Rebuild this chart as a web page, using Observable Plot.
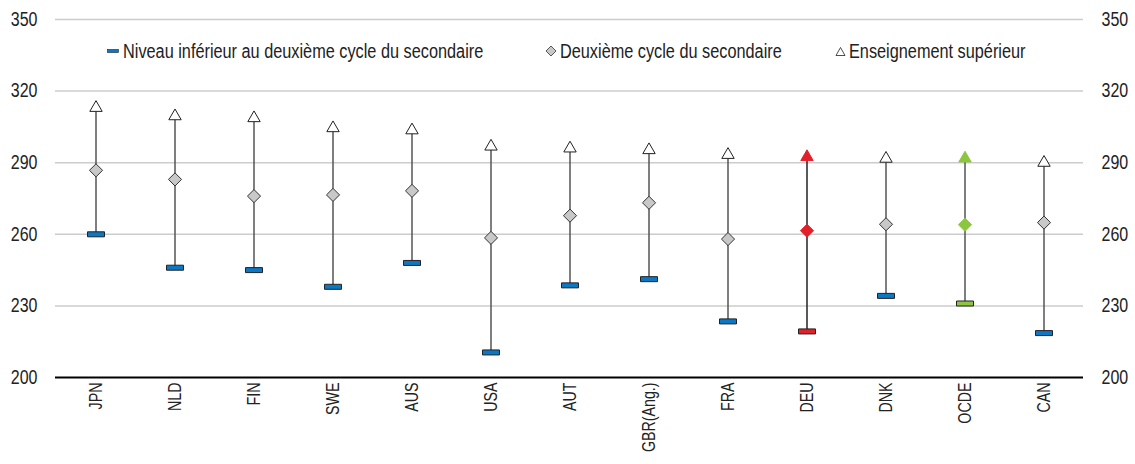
<!DOCTYPE html>
<html>
<head>
<meta charset="utf-8">
<script src="https://cdn.jsdelivr.net/npm/d3@7"></script>
<script src="https://cdn.jsdelivr.net/npm/@observablehq/plot@0.6"></script>
<style>
  html, body { margin: 0; padding: 0; background: #fff; }
  #wrap { position: relative; width: 1135px; height: 464px; font-family: "Liberation Sans", Arial, sans-serif; }
  #legend { position: absolute; top: 40px; left: 0; width: 1135px; height: 22px; font-size: 19.5px; color: #222; }
  .li { position: absolute; display: flex; align-items: center; white-space: nowrap; height: 22px; }
  .li svg { margin-right: 3px; flex: none; }
  .li span { display: inline-block; transform: scaleX(0.835); transform-origin: 0 50%; }
</style>
</head>
<body>
<div id="wrap">
  <div id="chart"></div>
  <div id="legend"></div>
</div>
<script>
const countries = ["JPN","NLD","FIN","SWE","AUS","USA","AUT","GBR(Ang.)","FRA","DEU","DNK","OCDE","CAN"];
const belowUpperSecondary = [260, 246, 245, 238, 248, 210.5, 238.6, 241.2, 223.5, 219.3, 234.2, 231, 218.6];
const upperSecondary      = [286.8, 283, 276, 276.5, 278.2, 258.5, 267.8, 273.2, 258, 261.5, 264.2, 264, 264.9];
const tertiary            = [313, 309.5, 308.7, 304.5, 303.6, 296.8, 296, 295.3, 293.3, 292.4, 291.7, 291.8, 290];
const seriesNames = ["Niveau inférieur au deuxième cycle du secondaire", "Deuxième cycle du secondaire", "Enseignement supérieur"];
const yTicks = [200, 230, 260, 290, 320, 350];

const BLUE = "#0b78c6", GRAY = "#c8c8c8", RED = "#e3202a", GREEN = "#8cc63f";
const accent = c => c === "DEU" ? RED : c === "OCDE" ? GREEN : null;

const data = countries.map((c, i) => ({c, low: belowUpperSecondary[i], mid: upperSecondary[i], high: tertiary[i]}));

const barSym = { draw(ctx) { ctx.rect(-8.5, -2.5, 17, 5); } };

const FONT = '"Liberation Sans", Arial, sans-serif';

const chart = Plot.plot({
  width: 1135,
  height: 464,
  marginLeft: 55,
  marginRight: 52,
  marginTop: 19,
  marginBottom: 87,
  style: {fontFamily: FONT, fontSize: "18px", color: "#222", background: "#fff"},
  x: {type: "band", domain: countries, padding: 0},
  y: {domain: [200, 350]},
  marks: [
    Plot.gridY(yTicks.filter(t => t > 200), {stroke: "#cccccc", strokeOpacity: 1, strokeWidth: 1.5}),
    Plot.ruleY([200], {stroke: "#000", strokeWidth: 2}),
    Plot.axisY(yTicks, {anchor: "left", tickSize: 0, tickPadding: 18, fontSize: 19.5}),
    Plot.axisY(yTicks, {anchor: "right", tickSize: 0, tickPadding: 18, fontSize: 19.5}),
    Plot.axisX({tickRotate: -90, tickSize: 0, tickPadding: 5, fontSize: 18.5, label: null}),
    Plot.ruleX(data, {x: "c", y1: "low", y2: "high", stroke: d => accent(d.c) === RED ? "#222" : "#555", strokeWidth: 1.5}),
    Plot.dot(data, {x: "c", y: "low", symbol: barSym, r: 5, fill: d => accent(d.c) || BLUE, stroke: "#222", strokeWidth: 1}),
    Plot.dot(data, {x: "c", y: "mid", symbol: "diamond2", r: 5.9, fill: d => accent(d.c) || GRAY, stroke: d => accent(d.c) || "#333", strokeWidth: 1}),
    Plot.dot(data, {x: "c", y: "high", symbol: "triangle", r: 4.6, fill: d => accent(d.c) || "#fff", stroke: d => accent(d.c) || "#222", strokeWidth: 1})
  ]
});
document.getElementById("chart").appendChild(chart);

// narrow the axis text (emulates a condensed face)
function narrow(sel, k) {
  d3.select(chart).selectAll(sel).each(function() {
    const t = d3.select(this);
    const tr = t.attr("transform");
    if (tr) {
      t.attr("transform", tr + ` scale(${k},1)`);
    } else {
      const x = +t.attr("x") || 0, y = +t.attr("y") || 0;
      t.attr("x", null).attr("y", null).attr("transform", `translate(${x},${y}) scale(${k},1)`);
    }
  });
}
narrow("g[aria-label='y-axis tick label'] text", 0.82);
narrow("g[aria-label='x-axis tick label'] text", 0.77);

// legend
const legend = document.getElementById("legend");
const items = [
  {left: 107, svg: '<svg width="13" height="10"><rect x="0.5" y="3.5" width="11" height="3" fill="' + BLUE + '" stroke="#222" stroke-width="0.6"/></svg>', label: seriesNames[0]},
  {left: 545, svg: '<svg width="12" height="12"><path d="M6,1L11,6L6,11L1,6Z" fill="' + GRAY + '" stroke="#333" stroke-width="0.8"/></svg>', label: seriesNames[1]},
  {left: 835, svg: '<svg width="11" height="11"><path d="M5.5,1.5L10,9.5L1,9.5Z" fill="#fff" stroke="#222" stroke-width="0.8"/></svg>', label: seriesNames[2]}
];
for (const it of items) {
  const d = document.createElement("div");
  d.className = "li";
  d.style.left = it.left + "px";
  d.innerHTML = it.svg + "<span>" + it.label + "</span>";
  legend.appendChild(d);
}
</script>
</body>
</html>
